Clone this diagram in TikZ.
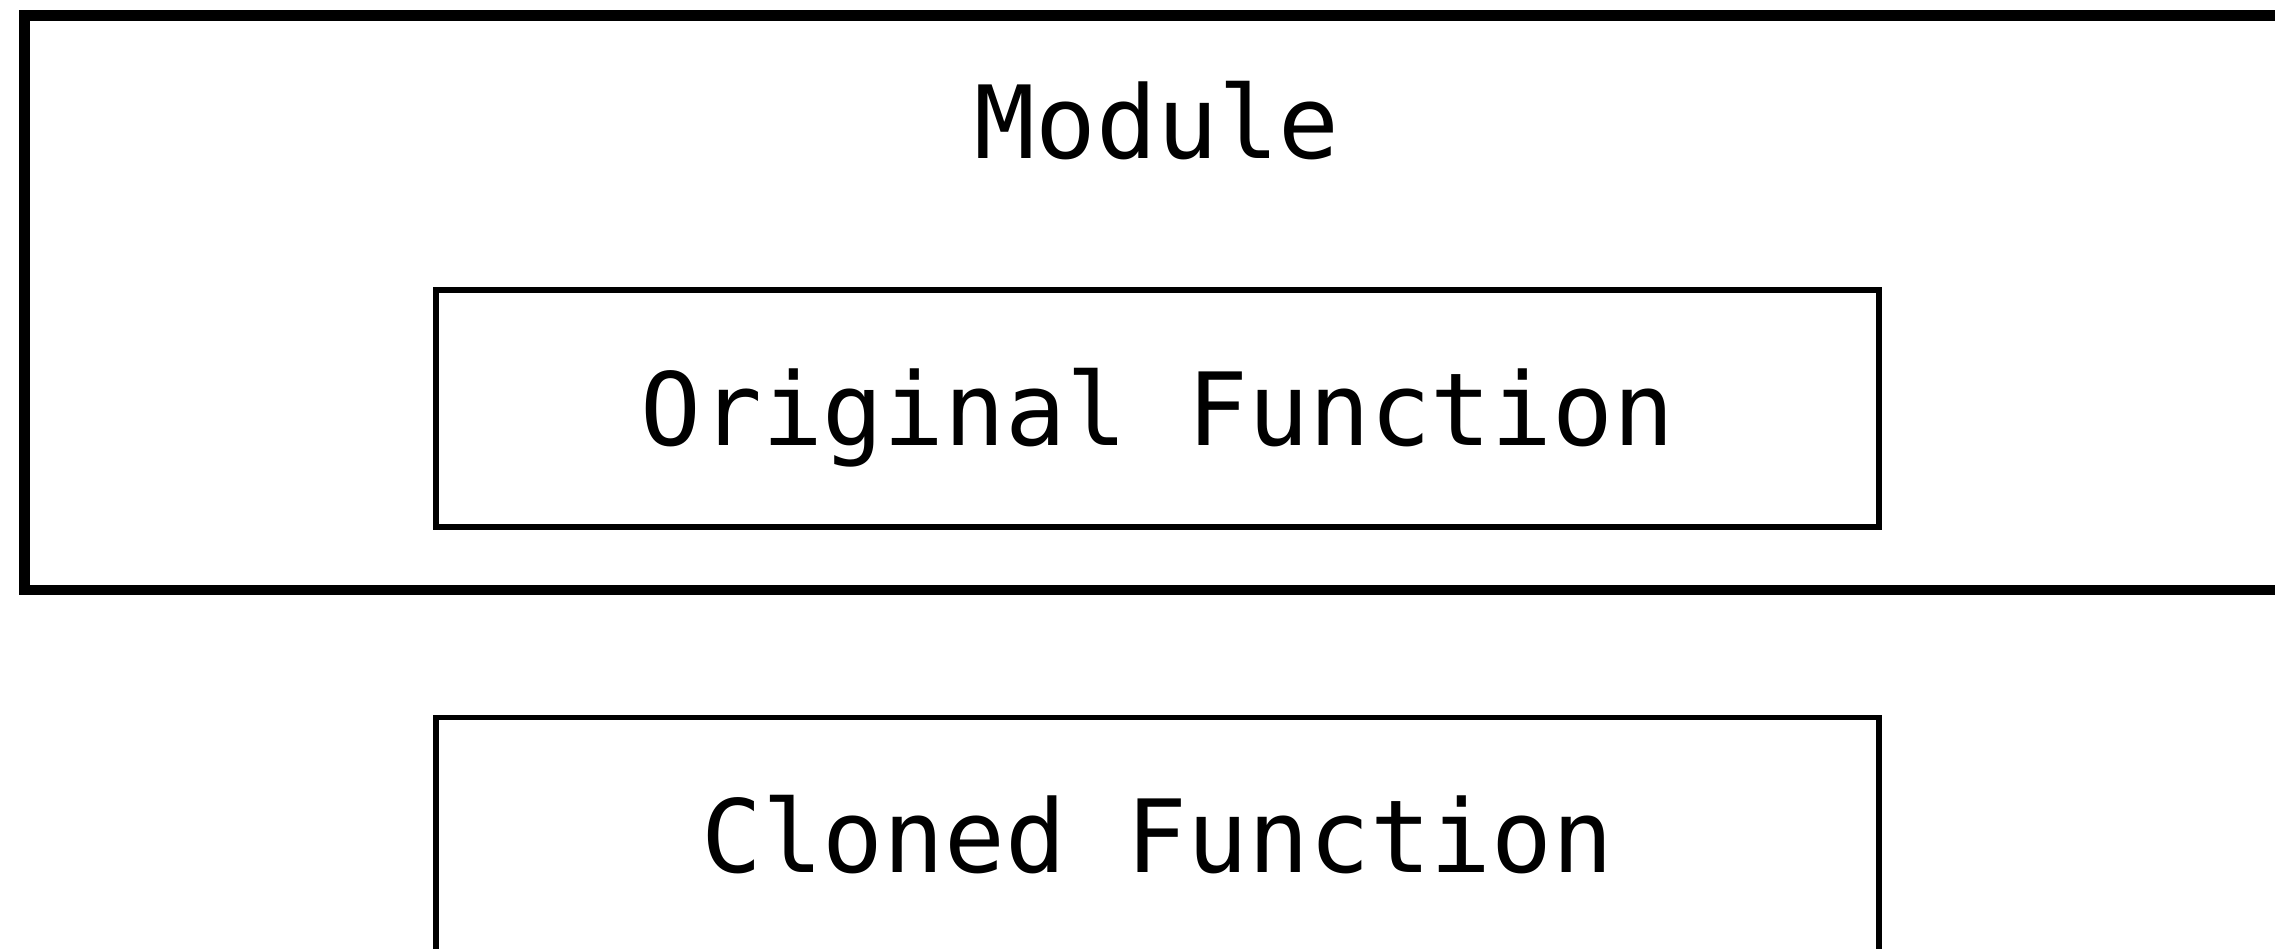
\documentclass[tikz,border=0pt]{standalone}
\usepackage{fontspec}
\newfontfamily\codefont{DejaVu Sans Mono}
\usetikzlibrary{positioning}
\tikzset{
  frame/.style={
    draw,
    rectangle,
    line width=5.35pt,
    inner sep=0pt,
    outer sep=0pt,
    minimum width=1132.65pt,
    minimum height=287.35pt
  },
  block/.style={
    draw,
    rectangle,
    line width=2.85pt,
    inner sep=0pt,
    outer sep=0pt,
    minimum width=721.5pt,
    minimum height=118.5pt,
    font=\codefont\fontsize{50.5}{60}\selectfont,
    text height=36.8pt,
    text depth=0pt,
    align=center
  },
  label/.style={
    inner sep=0pt,
    outer sep=0pt,
    font=\codefont\fontsize{50.5}{60}\selectfont,
    text height=36.8pt,
    text depth=0pt
  }
}
\begin{document}
\begin{tikzpicture}[x=0.5pt,y=-0.5pt]

					\useasboundingbox (0,0) rectangle (2275,948);
					\clip (0,0) rectangle (2275,948);

					% module frame
					\node[frame] (module) at (1157.35,302.65) {};
					\node[label, below = 34.8pt of module.north] (module_title) {Module};

					% original func.
					\node[block, below = 65.75pt of module_title] (original_function) {Original Function};

					% cloned func.
					\node[block, below = 95.25pt of original_function] (cloned_function) {Cloned Function};

				\end{tikzpicture}
\end{document}
